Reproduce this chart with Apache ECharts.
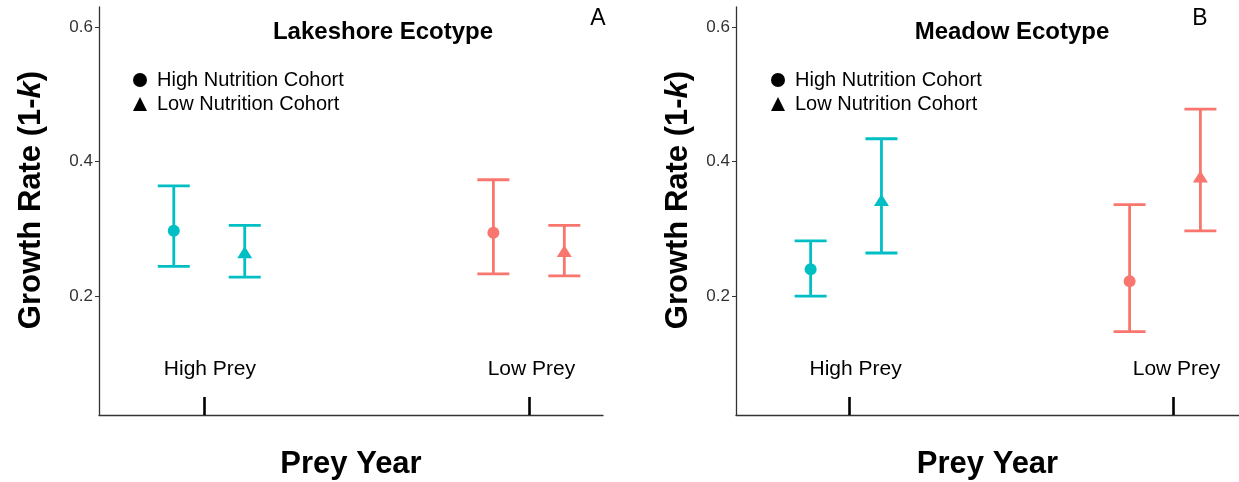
<!DOCTYPE html>
<html>
<head>
<meta charset="utf-8">
<script src="https://cdn.jsdelivr.net/npm/echarts@6/dist/echarts.min.js"></script>
<style>
  html, body { margin: 0; padding: 0; background: #fff; }
  #chart { width: 1239px; height: 482px; }
</style>
</head>
<body>
<div id="chart"></div>
<script>
// ---- data ----
const categories = ['High Prey', 'Low Prey'];
const panelTitles = ['Lakeshore Ecotype', 'Meadow Ecotype'];
const panelTags = ['A', 'B'];
const cohorts = ['High Nutrition Cohort', 'Low Nutrition Cohort'];
const yTicks = [0.2, 0.4, 0.6];
const categoryColors = ['#00BFC4', '#F8766D'];

// Lakeshore ecotype: mean growth rate and interval bounds per prey year
const lakeHighMean  = [0.297, 0.294];
const lakeHighLower = [0.244, 0.233];
const lakeHighUpper = [0.364, 0.373];
const lakeLowMean   = [0.265, 0.267];
const lakeLowLower  = [0.228, 0.230];
const lakeLowUpper  = [0.305, 0.305];

// Meadow ecotype
const meadowHighMean  = [0.240, 0.222];
const meadowHighLower = [0.200, 0.147];
const meadowHighUpper = [0.282, 0.336];
const meadowLowMean   = [0.343, 0.378];
const meadowLowLower  = [0.264, 0.297];
const meadowLowUpper  = [0.434, 0.478];

// ---- layout / style ----
const FONT = "'Liberation Sans', Arial, Helvetica, sans-serif";
const panelData = [
  [[lakeHighMean, lakeHighLower, lakeHighUpper], [lakeLowMean, lakeLowLower, lakeLowUpper]],
  [[meadowHighMean, meadowHighLower, meadowHighUpper], [meadowLowMean, meadowLowLower, meadowLowUpper]]
];
const grids = [
  { left: 99, top: 7, width: 504, height: 408, outerBoundsMode: 'none', containLabel: false },
  { left: 736, top: 7, width: 503, height: 408, outerBoundsMode: 'none', containLabel: false }
];
const dodge = 0.111;           // horizontal offset of the two cohorts around a prey year
// where each panel puts its prey-year ticks and labels along the x scale
const xTickSpots  = [[0.983, 2.0], [1.011, 2.027]];
const xLabelSpots = [[1.002, 2.008], [1.030, 2.036]];
const symbols = ['circle', 'triangle'];
const symbolSizes = [12, [15, 12]];
const yNameGaps = [52, 42];
const titleCenters = [383, 1012];
const tagCenters = [598, 1200];
const legendLefts = [128, 766];

const series = [];
panelData.forEach((panel, p) => {
  panel.forEach(([mean, lower, upper], c) => {
    const off = c === 0 ? -dodge : dodge;
    const xs = categories.map((_, i) => i + 1 + off);
    // interval bars
    series.push({
      type: 'custom',
      name: cohorts[c],
      xAxisIndex: p,
      yAxisIndex: p,
      z: 2,
      encode: { x: 0, y: [1, 2] },
      data: xs.map((x, i) => [x, lower[i], upper[i], i]),
      renderItem(params, api) {
        const x = api.value(0);
        const lo = api.coord([x, api.value(1)]);
        const hi = api.coord([x, api.value(2)]);
        const half = 16;
        const style = { stroke: categoryColors[api.value(3)], lineWidth: 2.8, fill: null };
        return {
          type: 'group',
          children: [
            { type: 'line', shape: { x1: lo[0], y1: lo[1], x2: hi[0], y2: hi[1] }, style },
            { type: 'line', shape: { x1: lo[0] - half, y1: lo[1], x2: lo[0] + half, y2: lo[1] }, style },
            { type: 'line', shape: { x1: hi[0] - half, y1: hi[1], x2: hi[0] + half, y2: hi[1] }, style }
          ]
        };
      }
    });
    // means
    series.push({
      type: 'scatter',
      name: cohorts[c],
      xAxisIndex: p,
      yAxisIndex: p,
      z: 3,
      symbol: symbols[c],
      symbolSize: symbolSizes[c],
      data: xs.map((x, i) => [x, mean[i], i]),
      itemStyle: { color: (params) => categoryColors[params.data[2]], opacity: 1 }
    });
  });
});

const xAxes = grids.map((g, p) => ({
  gridIndex: p,
  type: 'value',
  min: 0.655,
  max: 2.232,
  splitLine: { show: false },
  axisLine: { show: true, onZero: false, lineStyle: { color: '#333', width: 1.3 } },
  axisTick: { show: true, customValues: xTickSpots[p], inside: true, length: 18, lineStyle: { color: '#000', width: 2.6 } },
  axisLabel: {
    show: true, customValues: xLabelSpots[p], inside: true, margin: 35,
    formatter: (v) => {
      const spots = xLabelSpots[p];
      let best = 0;
      spots.forEach((s, i) => { if (Math.abs(s - v) < Math.abs(spots[best] - v)) best = i; });
      return categories[best];
    },
    fontSize: 21, color: '#000', fontFamily: FONT
  },
  name: 'Prey Year',
  nameLocation: 'middle',
  nameGap: 34,
  nameTextStyle: { fontSize: 31, fontWeight: 'bold', color: '#000', fontFamily: FONT }
}));

const yAxes = grids.map((g, p) => ({
  gridIndex: p,
  type: 'value',
  min: 0.023,
  max: 0.63,
  splitLine: { show: false },
  axisLine: { show: true, onZero: false, lineStyle: { color: '#333', width: 1.3 } },
  axisTick: { show: true, customValues: yTicks, length: 4, lineStyle: { color: '#333', width: 1 } },
  axisLabel: {
    show: true, customValues: yTicks, margin: 6,
    formatter: (v) => v.toFixed(1),
    fontSize: 17, color: '#333', fontFamily: FONT
  },
  name: '{n|Growth Rate (1-}{i|k}{n|)}',
  nameLocation: 'middle',
  nameGap: yNameGaps[p],
  nameTextStyle: {
    padding: [0, 0, 0, 22],
    rich: {
      n: { fontSize: 31, fontWeight: 'bold', color: '#000', fontFamily: FONT },
      i: { fontSize: 31, fontWeight: 'bold', fontStyle: 'italic', color: '#000', fontFamily: FONT }
    }
  }
}));

const legends = grids.map((g, p) => ({
  orient: 'vertical',
  left: legendLefts[p],
  top: 65,
  itemWidth: 14,
  itemHeight: 14,
  itemGap: 4,
  selectedMode: false,
  textStyle: { fontSize: 20, color: '#000', fontFamily: FONT, padding: [0, 0, 0, 5] },
  data: cohorts.map((name, c) => ({
    name,
    icon: symbols[c],
    itemStyle: { color: '#000' }
  }))
}));

const graphics = [];
panelTitles.forEach((t, p) => {
  graphics.push({
    type: 'text', x: titleCenters[p], y: 32,
    style: { text: t, align: 'center', verticalAlign: 'middle', fill: '#000',
             font: `bold 24px ${FONT}` }
  });
  graphics.push({
    type: 'text', x: tagCenters[p], y: 19,
    style: { text: panelTags[p], align: 'center', verticalAlign: 'middle', fill: '#000',
             font: `23px ${FONT}` }
  });
});

const chart = echarts.init(document.getElementById('chart'), null, { renderer: 'canvas' });
chart.setOption({
  backgroundColor: '#fff',
  animation: false,
  grid: grids,
  xAxis: xAxes,
  yAxis: yAxes,
  legend: legends,
  graphic: graphics,
  series
});
</script>
</body>
</html>
